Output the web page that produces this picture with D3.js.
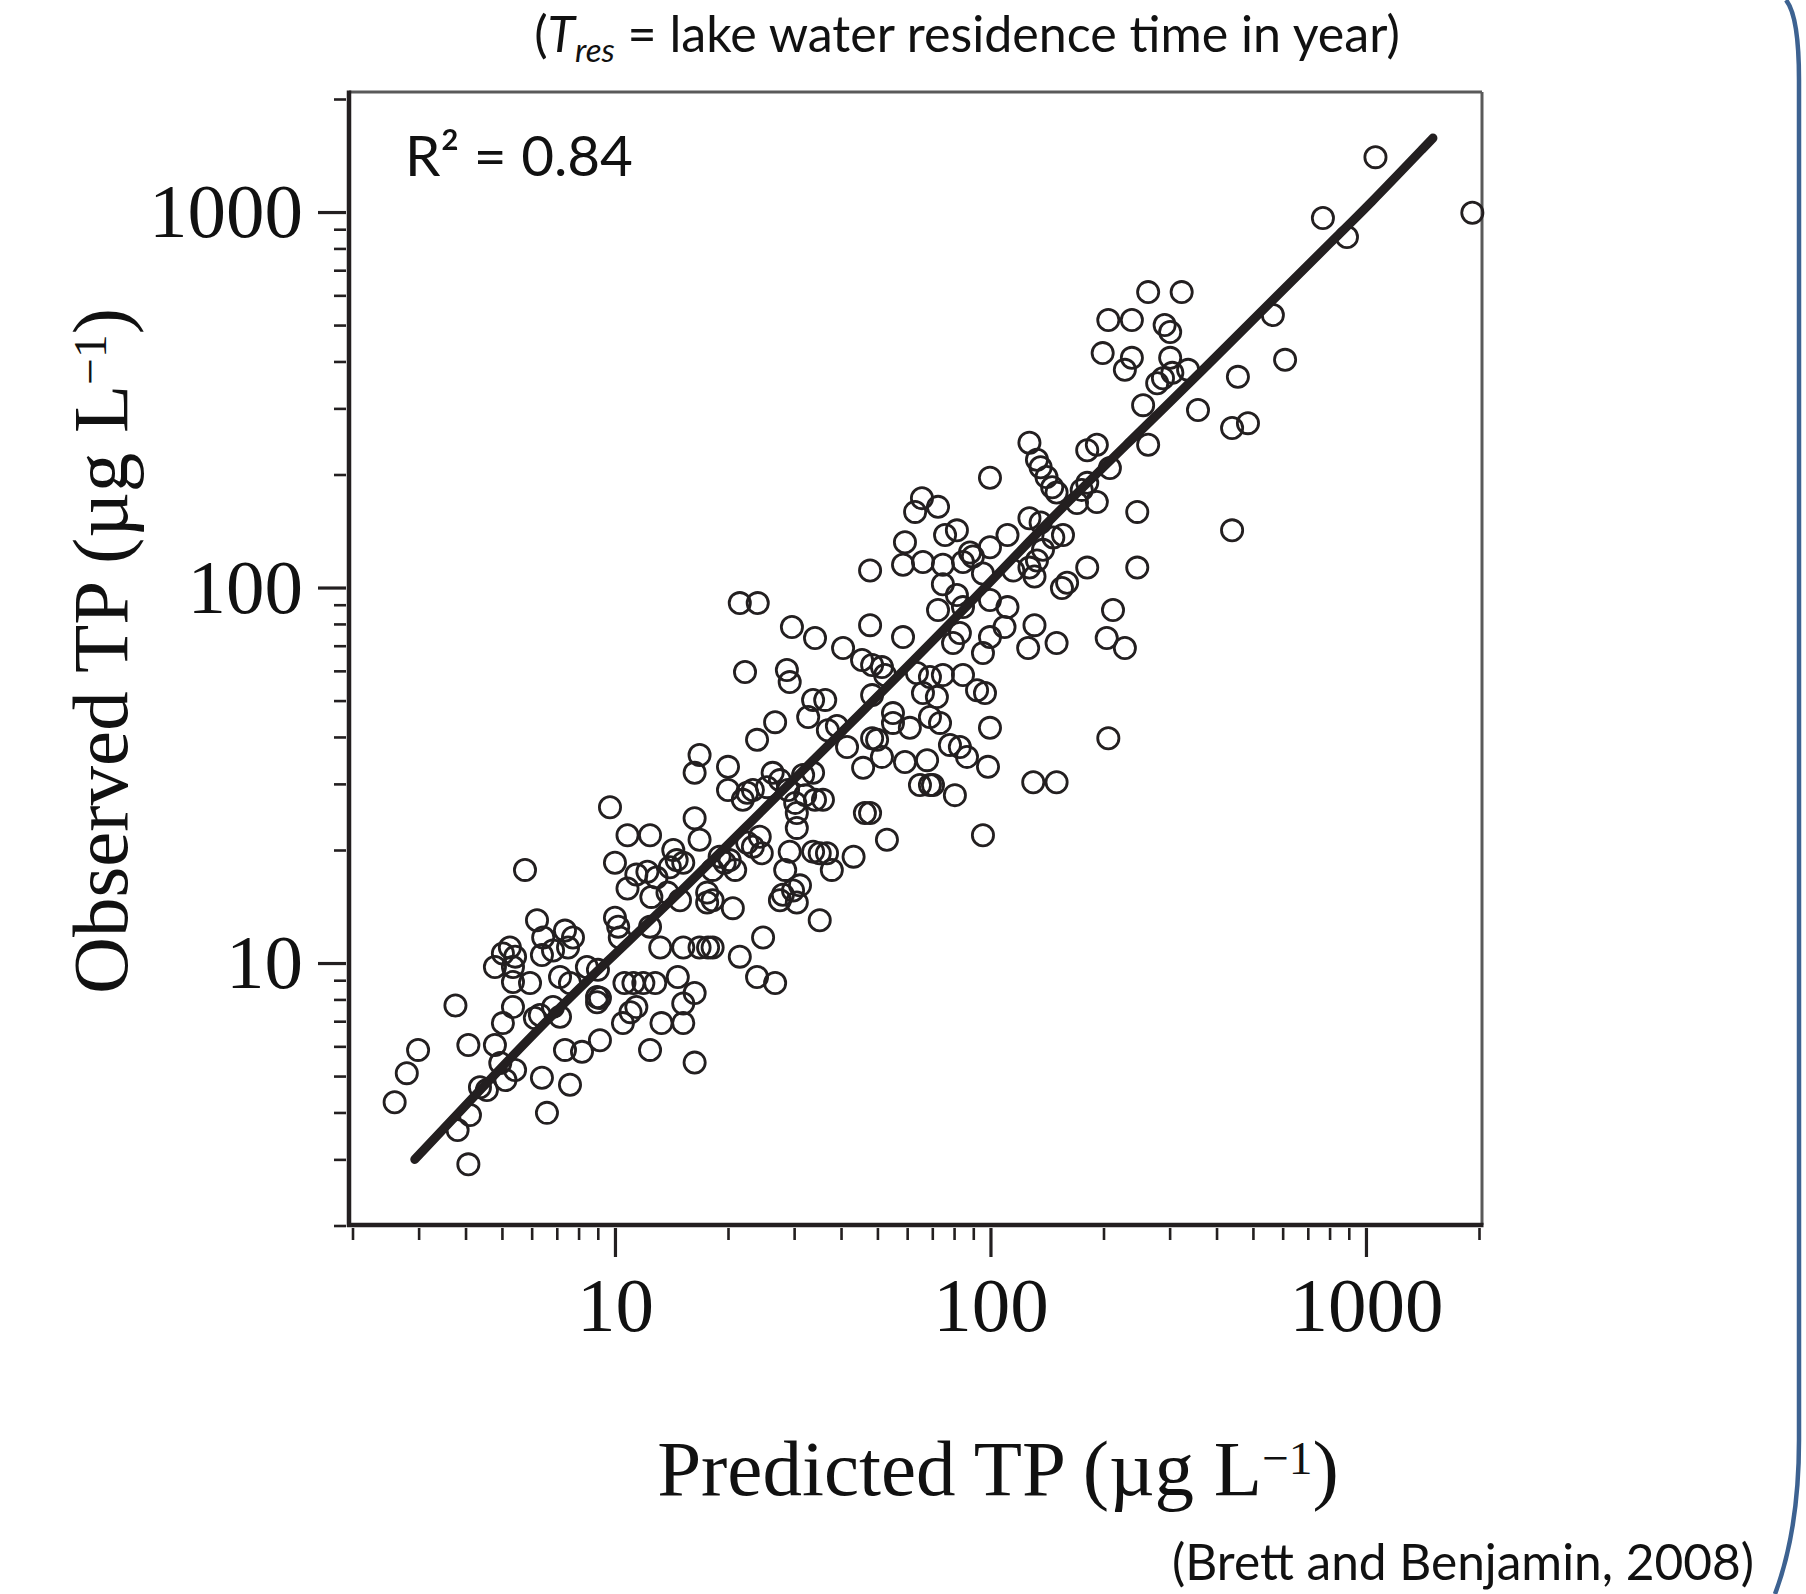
<!DOCTYPE html>
<html>
<head>
<meta charset="utf-8">
<script src="https://cdn.jsdelivr.net/npm/d3@7"></script>
<style>
  html, body { margin: 0; padding: 0; background: #ffffff; overflow: hidden; }
  svg { display: block; }
</style>
</head>
<body>
<svg id="chart" width="1806" height="1594"></svg>
<script>
// ---------------- DATA ----------------
// Predicted TP (µg/L) for each lake
const predictedTP = [
  1060, 1920, 768, 890,
  263, 323, 206, 238, 291, 301, 199, 238, 228, 301, 336, 305, 288, 278, 565, 609, 456,
  255, 357, 440, 485, 263, 127, 133, 136, 141, 146, 150, 181, 192, 208, 181, 175, 192, 170, 246, 440,
  99.7, 65.7, 63.0, 72.5, 127, 136, 111, 156, 147, 81.4, 75.7, 59.2, 99.7, 88.2, 89.8, 138, 133, 127,
  131, 181, 246, 160, 155, 115, 212, 131, 150, 126, 204, 228, 206, 130, 150,
  47.8, 58.5, 66.1, 74.7, 84.5, 95.5, 74.7, 81.4, 72.5, 84.5, 99.7, 111, 21.5, 24.0, 29.6, 34.1, 47.8,
  58.5, 40.5, 45.5, 48.4, 51.4, 82.9, 79.5, 95.5, 99.7, 109, 22.2, 28.7, 29.2, 33.7, 36.3, 32.7, 36.9,
  39.0, 26.7, 23.9, 48.4, 52.4, 55.0, 55.0, 61.0, 63.7, 69.0, 74.7, 84.5, 92.1, 96.7, 66.1, 72.0, 69.0,
  73.4, 99.7, 41.5, 48.4, 49.9, 78.0, 82.9, 86.6, 45.8, 51.4, 59.2, 67.8, 98.5, 64.9, 69.0, 70.3, 80.4,
  95.5, 46.3, 47.8, 53.0, 43.2, 33.7, 35.1, 36.7, 37.8, 29.2, 28.4, 30.5, 30.5, 30.2, 32.1, 34.1, 35.8,
  28.9, 27.5, 31.7, 33.7, 26.3, 25.4, 22.5, 23.3, 21.9, 20.0, 20.0, 16.8, 16.3, 9.70, 10.8, 12.4, 16.3,
  16.8, 14.3, 14.6, 14.0, 15.2, 10.0, 11.4, 12.2, 12.9, 10.8, 12.5, 13.8, 14.9, 17.6, 17.6, 18.2, 19.0,
  20.2, 20.9, 19.6, 18.2, 23.3, 24.6, 22.5, 24.3, 20.6, 28.0, 27.5, 29.8, 30.5, 31.1, 35.1, 24.8, 10.0,
  10.2, 10.3, 7.36, 7.73, 7.50, 12.4, 13.2, 15.2, 16.8, 17.7, 18.2, 21.5,
  5.76, 6.20, 6.44, 6.39, 6.84, 5.25, 5.42, 5.03, 4.79, 5.35, 5.35, 5.94, 5.35, 5.03, 6.12, 6.31, 6.84,
  3.76, 4.79, 4.07, 4.95, 5.42, 5.11, 4.56, 4.37, 4.11, 3.81, 4.07, 2.99, 2.79, 2.59, 6.39, 6.59, 7.14,
  7.59, 8.42, 9.01, 10.6, 11.2, 11.9, 12.8, 14.7, 23.9, 26.7, 7.14, 8.96, 8.96, 9.12, 10.5, 11.0, 11.4,
  13.3, 15.2, 15.2, 16.3, 12.4, 16.3, 7.36, 8.17, 9.12, 7.59
];
// Observed TP (µg/L) for each lake (same order)
const observedTP = [
  1400, 996, 964, 858,
  612, 612, 516, 516, 500, 479, 421, 409, 380, 409, 380, 373, 361, 350, 532, 404, 364,
  306, 297, 266, 274, 240, 243, 219, 209, 197, 185, 179, 232, 240, 208, 190, 182, 169, 168, 159, 142,
  196, 173, 159, 164, 153, 149, 138, 138, 136, 142, 138, 132, 128, 124, 121, 126, 118, 113,
  107, 113, 113, 103, 99.7, 111, 87.1, 79.4, 71.2, 69.0, 73.4, 69.0, 39.7, 30.3, 30.3,
  111, 115, 117, 115, 117, 109, 102, 95.5, 87.1, 88.7, 92.6, 88.7, 90.9, 90.9, 78.5, 73.4, 79.4,
  73.8, 69.0, 64.1, 62.2, 61.4, 75.7, 71.2, 66.9, 73.8, 78.5, 59.6, 60.3, 56.0, 50.2, 50.2, 45.2, 41.7,
  42.8, 43.8, 39.3, 51.7, 58.5, 46.3, 43.6, 42.3, 59.2, 57.8, 58.5, 58.5, 53.3, 52.4, 52.4, 51.1, 45.2,
  43.6, 42.3, 37.6, 39.7, 39.3, 38.1, 37.6, 35.4, 33.1, 35.4, 34.3, 34.7, 33.3, 29.8, 29.8, 29.8, 28.0,
  21.9, 25.1, 25.1, 21.3, 19.2, 19.8, 19.6, 19.6, 17.7, 19.8, 17.7, 22.9, 25.1, 26.7, 28.0, 27.2, 27.2,
  28.9, 30.7, 31.7, 32.1, 32.1, 29.4, 28.4, 28.9, 27.2, 33.3, 28.9, 35.8, 32.1, 26.0, 21.9, 21.9, 24.3,
  21.3, 20.0, 18.8, 18.0, 18.5, 18.5, 17.2, 17.5, 16.9, 15.8, 15.0, 15.4, 14.7, 15.4, 14.5, 14.7, 19.2,
  18.8, 17.7, 18.5, 17.7, 20.4, 19.6, 20.9, 21.7, 14.0, 15.2, 14.7, 15.6, 14.5, 16.1, 13.0, 11.7, 13.2,
  12.5, 11.7, 12.2, 11.7, 11.0, 12.5, 11.0, 11.0, 11.0, 11.0, 11.0, 10.4,
  17.7, 13.0, 11.7, 10.5, 10.8, 11.0, 10.4, 10.6, 9.76, 9.76, 8.90, 8.85, 7.64, 6.92, 7.14, 7.27, 7.64,
  7.71, 6.05, 6.05, 5.42, 5.19, 4.88, 4.59, 4.67, 3.94, 3.59, 2.91, 5.87, 5.09, 4.26, 4.95, 3.99, 9.18,
  8.85, 9.76, 9.59, 8.85, 8.85, 8.85, 8.85, 9.18, 9.18, 8.85, 7.19, 8.12, 7.86, 8.07, 6.92, 7.40, 7.64,
  6.92, 6.92, 7.80, 8.32, 5.87, 5.43, 5.87, 5.80, 6.23, 4.74
];
// Fitted relationship (thick line)
const fitPredicted = [2.93, 4.37, 6.59, 9.52, 14.3, 24.3, 44.9, 82.9, 144, 240, 361, 601, 817, 1006, 1508];
const fitObserved  = [3.00, 4.59, 7.05, 10.1, 14.8, 25.1, 46.0, 85.0, 152, 250, 373, 620, 842, 1031, 1574];

// Axis ticks
const majorTicks = [10, 100, 1000];
const majorTickLabels = ["10", "100", "1000"];
const minorTicks = [2, 3, 4, 5, 6, 7, 8, 9, 20, 30, 40, 50, 60, 70, 80, 90,
                    200, 300, 400, 500, 600, 700, 800, 900, 2000];
const axisDomain = [2, 2000];

// Texts
const titleParts = { open: "(", T: "T", sub: "res", rest: " = lake water residence time in year)" };
const r2Label = "R\u00B2 = 0.84";
const citation = "(Brett and Benjamin, 2008)";
const xTitleMain = "Predicted TP (\u00B5g L";
const yTitleMain = "Observed TP (\u00B5g L";
const unitSup = "\u22121";

// ---------------- LAYOUT ----------------
const svg = d3.select("#chart");
const frame = { left: 349, right: 1482, top: 92, bottom: 1225 };
const ink = "#231f20";

const x = d3.scaleLog().domain(axisDomain).range([352.5, 1479]);
const y = d3.scaleLog().domain(axisDomain).range([1225.5, 99]);

svg.append("rect").attr("width", 1806).attr("height", 1594).attr("fill", "#ffffff");

// Frame: thin grey top/right, heavy black left/bottom
svg.append("line").attr("x1", frame.left).attr("x2", frame.right).attr("y1", frame.top).attr("y2", frame.top)
  .attr("stroke", "#5a5a5a").attr("stroke-width", 3);
svg.append("line").attr("x1", frame.right).attr("x2", frame.right).attr("y1", frame.top).attr("y2", frame.bottom)
  .attr("stroke", "#5a5a5a").attr("stroke-width", 3);
svg.append("line").attr("x1", frame.left).attr("x2", frame.left).attr("y1", frame.top - 1.5).attr("y2", frame.bottom + 2)
  .attr("stroke", ink).attr("stroke-width", 4.5);
svg.append("line").attr("x1", frame.left - 2).attr("x2", frame.right + 1.5).attr("y1", frame.bottom).attr("y2", frame.bottom)
  .attr("stroke", ink).attr("stroke-width", 4.5);

const serif = "'Liberation Serif', 'Times New Roman', serif";

function styleAxis(g, width) {
  g.select(".domain").remove();
  g.selectAll(".tick line").attr("stroke", ink).attr("stroke-width", width);
  g.selectAll(".tick text").attr("fill", "#111").style("font-family", serif).style("font-size", "77px");
}

// Y axis (left)
const yMinor = svg.append("g").attr("transform", `translate(${frame.left - 3},0)`)
  .call(d3.axisLeft(y).tickValues(minorTicks).tickSize(12).tickFormat(""));
styleAxis(yMinor, 2.6);
const yMajor = svg.append("g").attr("transform", `translate(${frame.left - 3},0)`)
  .call(d3.axisLeft(y).tickValues(majorTicks).tickSize(28).tickPadding(15)
        .tickFormat((d, i) => majorTickLabels[i]));
styleAxis(yMajor, 3.2);

// X axis (bottom)
const xMinor = svg.append("g").attr("transform", `translate(0,${frame.bottom + 3})`)
  .call(d3.axisBottom(x).tickValues(minorTicks).tickSize(12).tickFormat(""));
styleAxis(xMinor, 2.6);
const xMajor = svg.append("g").attr("transform", `translate(0,${frame.bottom + 3})`)
  .call(d3.axisBottom(x).tickValues(majorTicks).tickSize(29).tickPadding(19)
        .tickFormat((d, i) => majorTickLabels[i]));
styleAxis(xMajor, 3.2);

// Points
const pts = predictedTP.map((p, i) => ({ p, o: observedTP[i] }));
svg.append("g").selectAll("circle").data(pts).join("circle")
  .attr("cx", d => x(d.p)).attr("cy", d => y(d.o)).attr("r", 10.6)
  .attr("fill", "none").attr("stroke", ink).attr("stroke-width", 2.8);

// Fitted line
const fit = fitPredicted.map((p, i) => ({ p, o: fitObserved[i] }));
svg.append("path").datum(fit)
  .attr("d", d3.line().x(d => x(d.p)).y(d => y(d.o)).curve(d3.curveBasis))
  .attr("fill", "none").attr("stroke", ink).attr("stroke-width", 9)
  .attr("stroke-linecap", "round").attr("stroke-linejoin", "round");

// Axis titles (serif)
const xt = svg.append("text").attr("x", 998).attr("y", 1495).attr("text-anchor", "middle")
  .style("font-family", serif).style("font-size", "79px").attr("fill", "#111");
xt.append("tspan").text(xTitleMain);
xt.append("tspan").attr("dy", "-0.45em").style("font-size", "0.6em").text(unitSup);
xt.append("tspan").attr("dy", "0.27em").text(")");

const yt = svg.append("text").attr("transform", "translate(127,651) rotate(-90)").attr("text-anchor", "middle")
  .style("font-family", serif).style("font-size", "79px").attr("fill", "#111");
yt.append("tspan").text(yTitleMain);
yt.append("tspan").attr("dy", "-0.45em").style("font-size", "0.6em").text(unitSup);
yt.append("tspan").attr("dy", "0.27em").text(")");

// Sans texts, fitted to the reference widths
const sans = "Lato, 'Open Sans', sans-serif";
function fitWidth(sel, target) {
  const w = sel.node().getComputedTextLength();
  const fs = parseFloat(sel.style("font-size"));
  sel.style("font-size", (fs * target / w) + "px");
}

const title = svg.append("text").attr("x", 967).attr("y", 52).attr("text-anchor", "middle")
  .style("font-family", sans).style("font-size", "50px").attr("fill", "#111");
title.append("tspan").text(titleParts.open);
title.append("tspan").style("font-style", "italic").text(titleParts.T);
title.append("tspan").style("font-style", "italic").style("font-size", "0.66em").attr("dy", "0.3em").text(titleParts.sub);
title.append("tspan").attr("dy", "-0.2em").text(titleParts.rest);
fitWidth(title, 866);

const r2 = svg.append("text").attr("x", 405).attr("y", 176)
  .style("font-family", sans).style("font-size", "58px").attr("fill", "#111").text(r2Label);
fitWidth(r2, 228);

const cite = svg.append("text").attr("x", 1754).attr("y", 1580).attr("text-anchor", "end")
  .style("font-family", sans).style("font-size", "50px").attr("fill", "#111").text(citation);
fitWidth(cite, 582);

// Slide frame edge (blue rounded border on the right)
svg.append("path")
  .attr("d", "M1786,0 Q1799,16 1799,80 L1799,1440 Q1799,1530 1775,1594")
  .attr("fill", "none").attr("stroke", "#3d6291").attr("stroke-width", 4.5);
</script>
</body>
</html>
